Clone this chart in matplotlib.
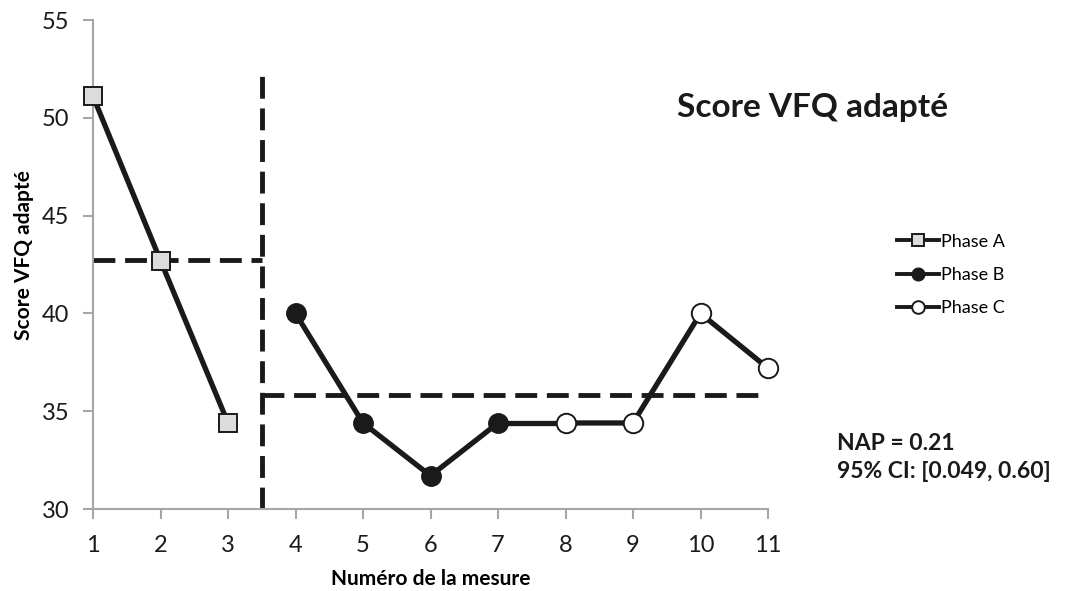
import numpy as np
import matplotlib.pyplot as plt

plt.rcParams['font.family'] = ['Lato', 'DejaVu Sans']

# mesures par phase
x_a = [1, 2, 3]
y_a = [51.1, 42.7, 34.4]
x_b = [4, 5, 6, 7]
y_b = [40.0, 34.4, 31.7, 34.4]
x_c = [8, 9, 10, 11]
y_c = [34.4, 34.4, 40.0, 37.2]

x_ticks = list(range(1, 12))
y_ticks = [30, 35, 40, 45, 50, 55]
x_coupure = 3.5

moy_a = np.mean(y_a)
moy_bc = np.mean(y_b + y_c)

fig = plt.figure(figsize=(10.68, 5.91), dpi=100)
ax = fig.add_axes([0.0871, 0.1387, 0.632, 0.8274])

gris = '#a6a6a6'
noir = '#1a1a1a'
lw = 3.8
ax.plot(x_a, y_a, color=noir, lw=lw, marker='s', ms=13.5, mfc='#dcdcdc',
        mec=noir, mew=1.4, label='Phase A', zorder=4, clip_on=False)
ax.plot(x_b, y_b, color=noir, lw=lw, marker='o', ms=14, mfc=noir,
        mec=noir, label='Phase B', zorder=4, clip_on=False)
# liaison entre la phase B et la phase C
ax.plot([x_b[-1], x_c[0]], [y_b[-1], y_c[0]], color=noir, lw=lw, zorder=3)
ax.plot(x_c, y_c, color=noir, lw=lw, marker='o', ms=14, mfc='white',
        mec=noir, mew=1.4, label='Phase C', zorder=4, clip_on=False)

# moyennes et séparation des phases
ls = (0, (4.5, 2))
ax.plot([x_ticks[0], x_coupure], [moy_a, moy_a], color=noir, lw=3.5, ls=ls, zorder=2)
ax.plot([x_coupure, x_ticks[-1]], [moy_bc, moy_bc], color=noir, lw=3.5, ls=ls, zorder=2)
ax.plot([x_coupure, x_coupure], [30, 52.2], color=noir, lw=3.5, ls=ls, zorder=2)

ax.set_xlim(1, 11)
ax.set_ylim(30, 55)
ax.set_xticks(x_ticks)
ax.set_yticks(y_ticks)
ax.tick_params(axis='both', colors=gris, labelcolor=noir, labelsize=17,
               length=7, width=1.5)
ax.tick_params(axis='x', pad=12)
ax.tick_params(axis='y', pad=10)
for s in ['top', 'right']:
    ax.spines[s].set_visible(False)
for s in ['left', 'bottom']:
    ax.spines[s].set_color(gris)
    ax.spines[s].set_linewidth(1.5)

ax.set_xlabel('Numéro de la mesure', fontsize=15, fontweight='bold', labelpad=9)
ax.set_ylabel('Score VFQ adapté', fontsize=15, fontweight='bold')
ax.yaxis.set_label_coords(-0.088, 0.52)

fig.text(0.761, 0.818, 'Score VFQ adapté', fontsize=24, fontweight='bold',
         color=noir, ha='center', va='center')
fig.text(0.784, 0.226, 'NAP = 0.21\n95% CI: [0.049, 0.60]', fontsize=16.5,
         fontweight='bold', color=noir, ha='left', va='center',
         linespacing=1.45)

leg = fig.legend(loc='upper left', bbox_to_anchor=(0.825, 0.632), frameon=False,
                 fontsize=13, handlelength=2.3, handletextpad=0.1,
                 labelspacing=0.95, markerscale=0.65)
for h in leg.legend_handles:
    h.set_linewidth(2.8)

fig.savefig('out.png', dpi=100)
